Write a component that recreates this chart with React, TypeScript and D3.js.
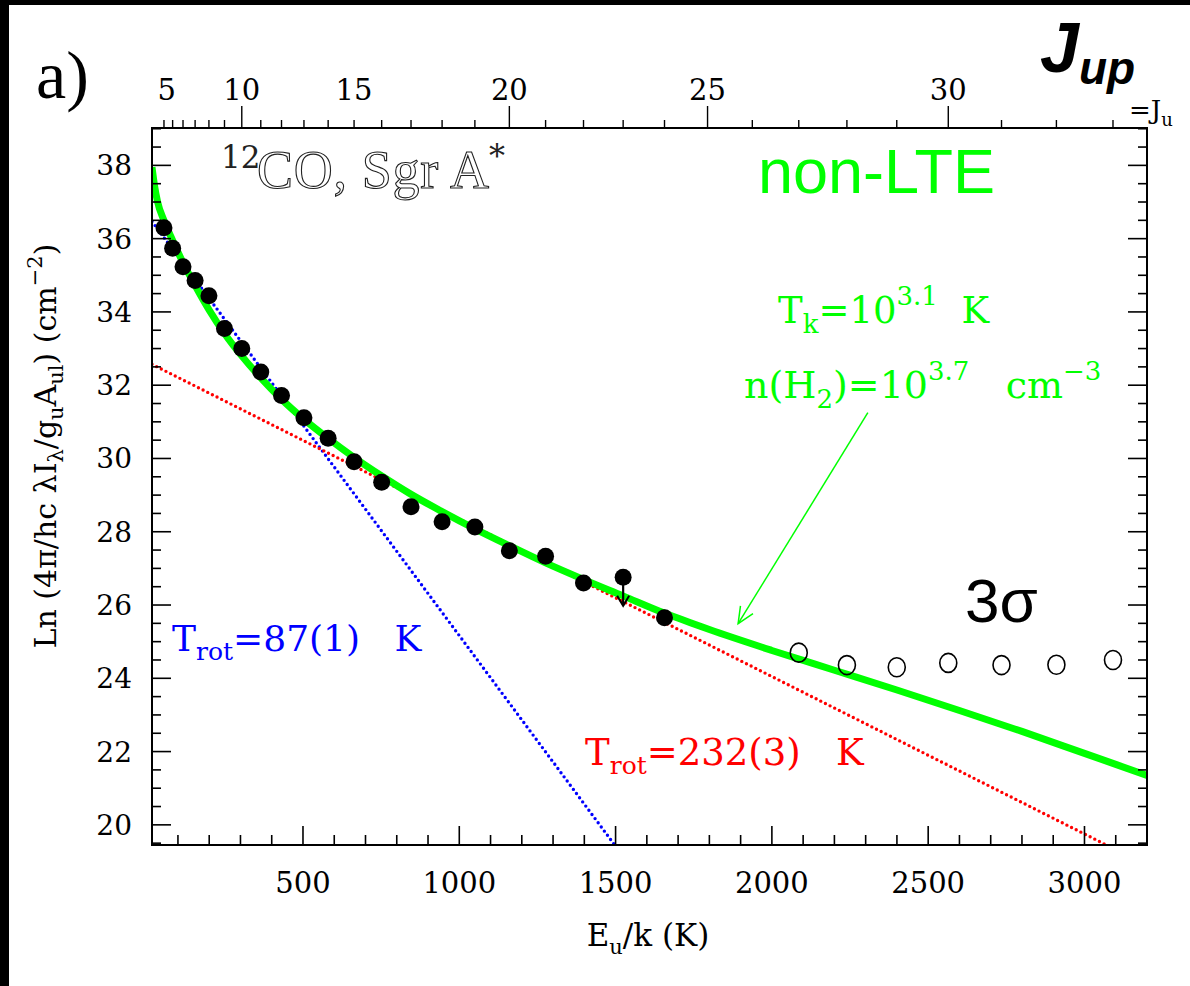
import React from 'react';
import * as d3 from 'd3';

const W = 1190;
const H = 986;
const M = { left: 152, right: 1147, top: 128, bottom: 845 };

// upper rotational level J of 12CO and its energy E_u/k (K), for the top axis
const J_TOP = [4, 5, 6, 7, 8, 9, 10, 11, 12, 13, 14, 15, 16, 17, 18, 19, 20, 21, 22, 23, 24, 25, 26, 27, 28, 29, 30, 31, 32, 33];
const E_TOP = [55.3, 83.0, 116.2, 154.9, 199.1, 248.9, 304.2, 365.0, 431.3, 503.1, 580.5, 663.4, 751.7, 845.6, 945.0, 1049.9, 1160.2, 1276.1, 1397.4, 1524.2, 1656.5, 1794.2, 1937.4, 2086.0, 2240.0, 2399.5, 2564.3, 2734.6, 2910.2, 3091.2];
const J_LABELS = [5, 10, 15, 20, 25, 30];
const J_LONG = [10, 20, 25, 30];

// detected lines (filled dots)
const E_DET = [55.3, 83.0, 116.2, 154.9, 199.1, 248.9, 304.2, 365.0, 431.3, 503.1, 580.5, 663.4, 751.7, 845.6, 945.0, 1049.9, 1160.2, 1276.1, 1397.4, 1656.5];
const LN_DET = [36.3, 35.74, 35.23, 34.86, 34.44, 33.55, 33.0, 32.36, 31.72, 31.11, 30.55, 29.91, 29.35, 28.68, 28.27, 28.13, 27.48, 27.33, 26.6, 25.65];

// J=23 upper limit
const E_LIMIT = [1524.2];
const LN_LIMIT = [26.76];
const LN_LIMIT_TIP = [25.98];

// 3 sigma points (open circles)
const E_3SIG = [2086.0, 2240.0, 2399.5, 2564.3, 2734.6, 2910.2, 3091.2];
const LN_3SIG = [24.7, 24.36, 24.3, 24.42, 24.36, 24.37, 24.5];

// non-LTE model curve
const E_NLTE = [17, 25, 35, 55, 83, 116, 155, 200, 250, 304, 365, 431, 503, 580, 663, 752, 846, 945, 1050, 1160, 1276, 1397, 1524, 1656, 1800, 2000, 2200, 2400, 2600, 2800, 3000, 3200];
const LN_NLTE = [37.95, 37.45, 37.0, 36.5, 35.95, 35.35, 34.72, 34.05, 33.4, 32.8, 32.2, 31.62, 31.07, 30.55, 30.03, 29.52, 29.02, 28.55, 28.08, 27.62, 27.15, 26.7, 26.25, 25.78, 25.33, 24.76, 24.22, 23.68, 23.12, 22.55, 21.95, 21.35];

// rotational-diagram fits
const E_BLUE = [17, 1497];
const LN_BLUE = [36.47, 19.45];
const E_RED = [17, 3070];
const LN_RED = [32.57, 19.45];

// annotation arrow (data coords)
const E_ARROW = [2307, 1892];
const LN_ARROW = [31.25, 25.49];

const X_MAJOR = [500, 1000, 1500, 2000, 2500, 3000];
const Y_MAJOR = [20, 22, 24, 26, 28, 30, 32, 34, 36, 38];

const SERIF = '"DejaVu Serif", serif';
const SANS = '"Liberation Sans", Arial, sans-serif';
const NB = '\u00a0';

export default function App() {
  const x = d3.scaleLinear().domain([17, 3200]).range([M.left, M.right]);
  const y = d3.scaleLinear().domain([19.45, 39.02]).range([M.bottom, M.top]);

  const xMinor = d3.range(100, 3201, 100);
  const yMinor = d3.range(19.5, 39.01, 0.5);

  const line = d3.line<[number, number]>().x(d => x(d[0])).y(d => y(d[1]));
  const curve = d3.line<[number, number]>().x(d => x(d[0])).y(d => y(d[1])).curve(d3.curveMonotoneX);

  const nlte = E_NLTE.map((e, i) => [e, LN_NLTE[i]] as [number, number]);
  const blue = E_BLUE.map((e, i) => [e, LN_BLUE[i]] as [number, number]);
  const red = E_RED.map((e, i) => [e, LN_RED[i]] as [number, number]);

  // annotation arrow head
  const ax0 = x(E_ARROW[0]), ay0 = y(LN_ARROW[0]);
  const ax1 = x(E_ARROW[1]), ay1 = y(LN_ARROW[1]);
  const ang = Math.atan2(ay0 - ay1, ax0 - ax1);
  const hl = 18, spread = 0.42;
  const head = (s: number) => [ax1 + hl * Math.cos(ang + s * spread), ay1 + hl * Math.sin(ang + s * spread)];
  const h1 = head(1), h2 = head(-1);

  return (
    <svg width={W} height={H} style={{ display: 'block', position: 'absolute', left: 0, top: 0, background: '#fff' }}>
      <defs>
        <clipPath id="plot">
          <rect x={M.left} y={M.top} width={M.right - M.left} height={M.bottom - M.top} />
        </clipPath>
      </defs>
      <rect x={0} y={0} width={W} height={H} fill="#fff" />
      <rect x={0} y={0} width={9} height={H} fill="#000" />
      <rect x={0} y={0} width={W} height={5} fill="#000" />

      <g clipPath="url(#plot)">
        <path d={line(blue) || ''} fill="none" stroke="#0000ff" strokeWidth={3.4} strokeDasharray="0 5.2" strokeLinecap="round" />
        <path d={line(red) || ''} fill="none" stroke="#ff0000" strokeWidth={3.4} strokeDasharray="0 5.2" strokeLinecap="round" />
        <path d={curve(nlte) || ''} fill="none" stroke="#00ff00" strokeWidth={7} />
      </g>

      {/* detections */}
      {E_DET.map((e, i) => (
        <circle key={'d' + i} cx={x(e)} cy={y(LN_DET[i])} r={8.5} fill="#000" />
      ))}
      {E_LIMIT.map((e, i) => {
        const cx = x(e), cy = y(LN_LIMIT[i]), ty = y(LN_LIMIT_TIP[i]);
        return (
          <g key={'u' + i}>
            <circle cx={cx} cy={cy} r={8.5} fill="#000" />
            <line x1={cx} y1={cy} x2={cx} y2={ty} stroke="#000" strokeWidth={2.2} />
            <polyline points={`${cx - 6},${ty - 10} ${cx},${ty} ${cx + 6},${ty - 10}`} fill="none" stroke="#000" strokeWidth={2} />
          </g>
        );
      })}
      {E_3SIG.map((e, i) => (
        <ellipse key={'o' + i} cx={x(e)} cy={y(LN_3SIG[i])} rx={8.5} ry={9.5} fill="none" stroke="#000" strokeWidth={1.6} />
      ))}

      {/* annotation arrow */}
      <line x1={ax0} y1={ay0} x2={ax1} y2={ay1} stroke="#00ff00" strokeWidth={1.5} />
      <polyline points={`${h1[0]},${h1[1]} ${ax1},${ay1} ${h2[0]},${h2[1]}`} fill="none" stroke="#00ff00" strokeWidth={1.5} />

      {/* frame */}
      <rect x={M.left} y={M.top} width={M.right - M.left} height={M.bottom - M.top} fill="none" stroke="#000" strokeWidth={2} />

      {/* bottom ticks */}
      {xMinor.map(v => {
        const major = v % 500 === 0;
        return <line key={'xt' + v} x1={x(v)} x2={x(v)} y1={M.bottom} y2={M.bottom - (major ? 19 : 10)} stroke="#000" strokeWidth={1.6} />;
      })}
      {X_MAJOR.map(v => (
        <text key={'xl' + v} x={x(v)} y={893} fontFamily={SERIF} fontSize={29} textAnchor="middle" fill="#000">{v}</text>
      ))}

      {/* left and right ticks */}
      {yMinor.map(v => {
        const major = Math.abs(v - Math.round(v)) < 1e-6 && Math.round(v) % 2 === 0;
        const len = major ? 19 : 9;
        return (
          <g key={'yt' + v}>
            <line x1={M.left} x2={M.left + len} y1={y(v)} y2={y(v)} stroke="#000" strokeWidth={1.6} />
            <line x1={M.right} x2={M.right - len} y1={y(v)} y2={y(v)} stroke="#000" strokeWidth={1.6} />
          </g>
        );
      })}
      {Y_MAJOR.map(v => (
        <text key={'yl' + v} x={132} y={y(v) + 10} fontFamily={SERIF} fontSize={28} textAnchor="end" fill="#000">{v}</text>
      ))}

      {/* top J axis */}
      {J_TOP.map((j, i) => (
        <line key={'jt' + j} x1={x(E_TOP[i])} x2={x(E_TOP[i])} y1={M.top} y2={M.top - (J_LONG.includes(j) ? 22 : 8)} stroke="#000" strokeWidth={1.4} />
      ))}
      {J_LABELS.map(j => (
        <text key={'jl' + j} x={x(E_TOP[J_TOP.indexOf(j)]) - (j === 5 ? 6 : 0)} y={100} fontFamily={SERIF} fontSize={29} textAnchor="middle" fill="#000">{j}</text>
      ))}

      {/* J_up title */}
      <text x={1040} y={72} fontFamily={SANS} fontSize={70} fontStyle="italic" fontWeight="bold" fill="#000">
        J<tspan fontSize={46} dy={12}>up</tspan>
      </text>
      <text x={1129} y={119} fontFamily={SERIF} fontSize={26} fill="#000">=J<tspan fontSize={18} dy={7}>u</tspan></text>

      {/* panel label */}
      <text x={36} y={98} fontFamily='"Liberation Serif", serif' fontSize={68} fill="#000">a)</text>

      {/* axis titles */}
      <text x={648} y={946} fontFamily={SERIF} fontSize={31} textAnchor="middle" fill="#000">
        E<tspan fontSize={21} dy={8}>u</tspan><tspan dy={-8}>/k (K)</tspan>
      </text>
      <text transform="translate(56,446) rotate(-90)" fontFamily={SERIF} fontSize={30} textAnchor="middle" fill="#000">
        Ln (4π/hc λI<tspan fontSize={21} dy={7}>λ</tspan><tspan dy={-7}>/g</tspan><tspan fontSize={21} dy={7}>u</tspan><tspan dy={-7}>A</tspan><tspan fontSize={21} dy={7}>ul</tspan><tspan dy={-7}>) (cm</tspan><tspan fontSize={21} dy={-14}>−2</tspan><tspan dy={14}>)</tspan>
      </text>

      {/* species label */}
      <text x={221} y={168} fontFamily={SERIF} fontSize={31} fill="#222">12</text>
      <text x={257} y={188} fontFamily='"Liberation Serif", serif' fontSize={54} fill="#fff" stroke="#222" strokeWidth={1.1} textLength={232} lengthAdjust="spacing">CO, Sgr A</text>
      <text x={489} y={167} fontFamily={SERIF} fontSize={32} fill="#222">*</text>

      <text x={758} y={193} fontFamily={SANS} fontSize={63} fill="#00ff00">non-LTE</text>

      <text x={778} y={323} fontFamily={SERIF} fontSize={37} fill="#00ff00">
        T<tspan fontSize={26} dy={10}>k</tspan><tspan dy={-10}>=10</tspan><tspan fontSize={26} dy={-18}>3.1</tspan><tspan dy={18}>{NB + NB}K</tspan>
      </text>
      <text x={744} y={398} fontFamily={SERIF} fontSize={38} fill="#00ff00">
        n(H<tspan fontSize={26} dy={10}>2</tspan><tspan dy={-10}>)=10</tspan><tspan fontSize={26} dy={-18}>3.7</tspan><tspan dy={18}>{NB + NB + NB}cm</tspan><tspan fontSize={26} dy={-18}>−3</tspan>
      </text>

      <text x={965} y={622} fontFamily={SANS} fontSize={62} fill="#000">3σ</text>

      <text x={172} y={651} fontFamily={SERIF} fontSize={36} fill="#0000ff">
        T<tspan fontSize={25} dy={9}>rot</tspan><tspan dy={-9}>=87(1){NB + NB + NB}K</tspan>
      </text>
      <text x={585} y={765} fontFamily={SERIF} fontSize={37} fill="#ff0000">
        T<tspan fontSize={25} dy={9}>rot</tspan><tspan dy={-9}>=232(3){NB + NB + NB}K</tspan>
      </text>
    </svg>
  );
}
